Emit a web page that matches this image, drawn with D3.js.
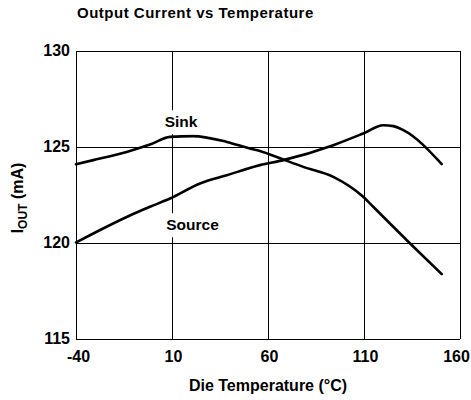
<!DOCTYPE html>
<html>
<head>
<meta charset="utf-8">
<script src="https://cdn.jsdelivr.net/npm/d3@7"></script>
<style>
  html, body { margin: 0; padding: 0; background: #fff; }
  svg text { font-family: "Liberation Sans", Arial, Helvetica, sans-serif; font-weight: bold; fill: #000; }
</style>
</head>
<body>
<svg id="chart" width="471" height="400"></svg>
<script>
// Output current (mA) against die temperature (°C)
const sinkTemps   = [-40, -31, -13.6, -1.5, 9, 21, 38.5, 50.6, 55.8, 68, 78.4, 94, 109.6, 114.8, 134, 150.5];
const sinkValues  = [124.08, 124.29, 124.72, 125.1, 125.5, 125.54, 125.24, 124.9, 124.77, 124.32, 123.94, 123.42, 122.38, 121.86, 119.95, 118.35];
const sourceTemps  = [-40, -31, -13.6, -1.5, 9, 24.6, 38.5, 55.8, 68, 94, 109.6, 120, 125.3, 130.5, 150.5];
const sourceValues = [120.0, 120.47, 121.33, 121.86, 122.29, 123.07, 123.5, 124.03, 124.29, 125.07, 125.68, 126.11, 126.06, 125.85, 124.08];
const xTicks = [-40, 10, 60, 110, 160];
const yTicks = [115, 120, 125, 130];
const seriesLabels = [
  { name: "Sink",   t: 14.7, v: 126.0 },
  { name: "Source", t: 20.7, v: 120.64 }
];

const svg = d3.select("#chart");
const margin = { left: 76, right: 11, top: 50.5, bottom: 61.5 };
const W = 471, H = 400;

const x = d3.scaleLinear().domain([-40, 160]).range([margin.left, W - margin.right]);
const y = d3.scaleLinear().domain([115, 130]).range([H - margin.bottom, margin.top]);

// plain hyphen for negatives, as printed on the axis
const fmt = d => String(d);

// title
svg.append("text")
  .attr("x", 77).attr("y", 18)
  .style("font-size", "15px")
  .style("letter-spacing", "0.5px")
  .text("Output Current vs Temperature");

// grid
const grid = svg.append("g").attr("stroke", "#000").attr("stroke-width", 1).attr("shape-rendering", "crispEdges");
grid.selectAll("line.v").data(xTicks).join("line")
  .attr("x1", d => Math.round(x(d)) + 0.5).attr("x2", d => Math.round(x(d)) + 0.5)
  .attr("y1", y(130)).attr("y2", y(115));
grid.selectAll("line.h").data(yTicks).join("line")
  .attr("y1", d => Math.round(y(d)) + 0.5).attr("y2", d => Math.round(y(d)) + 0.5)
  .attr("x1", x(-40)).attr("x2", x(160));

// axes (labels only; the frame comes from the grid)
const xAxis = svg.append("g")
  .attr("transform", `translate(0,${y(115)})`)
  .call(d3.axisBottom(x).tickValues(xTicks).tickSize(0).tickPadding(12).tickFormat(fmt));
xAxis.select(".domain").remove();
xAxis.selectAll("text").style("font-size", "16px").attr("font-family", null)
  .attr("dx", (d, i) => i === 0 ? 2 : (i === xTicks.length - 1 ? -4 : 1));

const yAxis = svg.append("g")
  .attr("transform", `translate(${x(-40)},0)`)
  .call(d3.axisLeft(y).tickValues(yTicks).tickSize(0).tickPadding(6).tickFormat(fmt));
yAxis.select(".domain").remove();
yAxis.selectAll("text").style("font-size", "16px").attr("font-family", null);

// axis titles
svg.append("text")
  .attr("x", (x(-40) + x(160)) / 2).attr("y", 391)
  .attr("text-anchor", "middle")
  .style("font-size", "16px")
  .text("Die Temperature (°C)");

const yt = svg.append("text")
  .attr("transform", `translate(23,198) rotate(-90)`)
  .attr("text-anchor", "middle")
  .style("font-size", "16px");
yt.append("tspan").text("I");
yt.append("tspan").attr("dy", 4).style("font-size", "12px").text("OUT");
yt.append("tspan").attr("dy", -4).text(" (mA)");

// curves
const line = d3.line()
  .x(d => x(d[0])).y(d => y(d[1]))
  .curve(d3.curveMonotoneX);

const series = [
  d3.zip(sinkTemps, sinkValues),
  d3.zip(sourceTemps, sourceValues)
];
svg.append("g").selectAll("path").data(series).join("path")
  .attr("d", line)
  .attr("fill", "none")
  .attr("stroke", "#000")
  .attr("stroke-width", 2.6)
  .attr("stroke-linejoin", "round")
  .attr("stroke-linecap", "round");

// series labels on white boxes
const lab = svg.append("g").selectAll("g").data(seriesLabels).join("g");
lab.append("text")
  .attr("x", d => x(d.t)).attr("y", d => y(d.v))
  .attr("text-anchor", "middle")
  .style("font-size", "15.5px")
  .text(d => d.name);
lab.each(function () {
  const g = d3.select(this);
  const bb = g.select("text").node().getBBox();
  g.insert("rect", "text")
    .attr("x", bb.x - 2).attr("y", bb.y - 3)
    .attr("width", bb.width + 4).attr("height", bb.height + 7)
    .attr("fill", "#fff");
});
</script>
</body>
</html>
